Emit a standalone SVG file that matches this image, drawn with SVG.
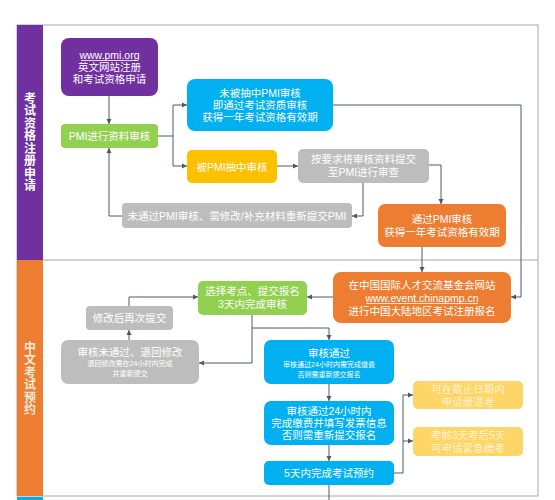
<svg xmlns="http://www.w3.org/2000/svg" width="555" height="500" viewBox="0 0 555 500">
<defs>
<marker id="arr" markerUnits="userSpaceOnUse" markerWidth="6" markerHeight="6" refX="5" refY="3" orient="auto">
<path d="M0,0.5 L5,3 L0,5.5 Z" fill="#4a5a6e"/>
</marker>
</defs>
<style>
text{font-family:"Liberation Sans","Noto Sans CJK SC",sans-serif;fill:#fff;text-anchor:middle;dominant-baseline:central}
.t{font-size:10.5px}
.s{font-size:7px}
.lane{font-family:"Noto Sans CJK SC",sans-serif;font-size:12px;font-weight:bold;writing-mode:tb;text-orientation:upright;letter-spacing:0.5px;text-anchor:start}
.c{fill:none;stroke:#4a5a6e;stroke-width:1}
.ca{fill:none;stroke:#4a5a6e;stroke-width:1;marker-end:url(#arr)}
.frame{fill:none;stroke:#a6a6a6;stroke-width:1}
.pale{fill:#fff3cf}
.ul{stroke:#fff;stroke-width:0.8}
</style>
<rect x="0" y="0" width="555" height="500" fill="#fff"/>
<g id="frame">
<rect class="frame" x="17" y="25" width="521" height="471"/>
<line class="frame" x1="43" y1="260" x2="538" y2="260"/>
</g>
<g id="lane1">
<rect x="17" y="25" width="26" height="235" fill="#7030A0"/>
<text class="lane" x="30" y="92">考试资格注册申请</text>
</g>
<g id="lane2">
<rect x="17" y="260" width="26" height="236" fill="#ED7D31"/>
<text class="lane" x="30" y="341" style="fill:#fde9d9">中文考试预约</text>
</g>
<rect x="17" y="497" width="26" height="3" fill="#00B0F0"/>
<g id="connectors">
<path class="ca" d="M109,96 V124"/>
<path class="ca" d="M158,136 H173 V105 H187"/>
<path class="ca" d="M173,136 V166 H187"/>
<path class="ca" d="M277,166 H298"/>
<path class="ca" d="M429,165 H441 V204"/>
<path class="ca" d="M363,183 V216 H352"/>
<path class="ca" d="M122,216 H109 V148"/>
<path class="ca" d="M333,105 H521 V297 H511"/>
<path class="ca" d="M422,247 V272"/>
<path class="ca" d="M333,297 H307"/>
<path class="ca" d="M252,315 V363 H199"/>
<path class="ca" d="M252,328 H329 V340"/>
<path class="ca" d="M129,340 V330"/>
<path class="ca" d="M129,306 V297 H198"/>
<path class="ca" d="M329,384 V401"/>
<path class="ca" d="M329,445 V461"/>
<path class="c" d="M329,485 V500"/>
<path class="ca" d="M393,473 H403 V395 H413"/>
<path class="ca" d="M403,441 H413"/>
</g>
<g id="pmi-site">
<rect x="61" y="38" width="97" height="58" rx="8" fill="#7030A0"/>
<text class="t"><tspan x="109.5" y="55">www.pmi.org</tspan><tspan x="109.5" y="67">英文网站注册</tspan><tspan x="109.5" y="79">和考试资格申请</tspan></text>
<line class="ul" x1="81" y1="60.5" x2="138" y2="60.5"/>
</g>
<g id="pmi-review">
<rect x="61" y="124" width="97" height="24" rx="4" fill="#92D050"/>
<text class="t" x="109.5" y="136">PMI进行资料审核</text>
</g>
<g id="not-audited">
<rect x="187" y="79" width="146" height="52" rx="8" fill="#00B0F0"/>
<text class="t"><tspan x="260" y="93">未被抽中PMI审核</tspan><tspan x="260" y="105">即通过考试资质审核</tspan><tspan x="260" y="117">获得一年考试资格有效期</tspan></text>
</g>
<g id="audited">
<rect x="187" y="150" width="90" height="33" rx="5" fill="#FFC000"/>
<text class="t" x="232" y="166.5">被PMI抽中审核</text>
</g>
<g id="submit-docs">
<rect x="298" y="149" width="131" height="34" rx="5" fill="#BDBDBD"/>
<text class="t"><tspan x="363.5" y="159">按要求将审核资料提交</tspan><tspan x="363.5" y="172">至PMI进行审查</tspan></text>
</g>
<g id="fail-resubmit">
<rect x="122" y="203" width="230" height="25" rx="4" fill="#BDBDBD"/>
<text class="t" x="237" y="215.5">未通过PMI审核、需修改/补充材料重新提交PMI</text>
</g>
<g id="pass-pmi">
<rect x="378" y="204" width="128" height="43" rx="7" fill="#ED7D31"/>
<text class="t"><tspan x="442" y="219">通过PMI审核</tspan><tspan x="442" y="232">获得一年考试资格有效期</tspan></text>
</g>
<g id="cn-register">
<rect x="333" y="272" width="178" height="51" rx="8" fill="#ED7D31"/>
<text class="t"><tspan x="422" y="285">在中国国际人才交流基金会网站</tspan><tspan x="422" y="298">www.event.chinapmp.cn</tspan><tspan x="422" y="311">进行中国大陆地区考试注册报名</tspan></text>
<line class="ul" x1="366" y1="303.5" x2="478" y2="303.5"/>
</g>
<g id="select-site">
<rect x="198" y="281" width="109" height="34" rx="5" fill="#92D050"/>
<text class="t"><tspan x="252.5" y="291">选择考点、提交报名</tspan><tspan x="252.5" y="304">3天内完成审核</tspan></text>
</g>
<g id="resubmit">
<rect x="86" y="306" width="87" height="24" rx="4" fill="#BDBDBD"/>
<text class="t" x="129.5" y="318">修改后再次提交</text>
</g>
<g id="review-fail">
<rect x="61" y="340" width="138" height="44" rx="7" fill="#BDBDBD"/>
<text class="t"><tspan x="130" y="352">审核未通过、退回修改</tspan><tspan class="s" x="130" y="363">退回修改需在24小时内完成</tspan><tspan class="s" x="130" y="372.5">并重新提交</tspan></text>
</g>
<g id="review-pass">
<rect x="264" y="340" width="130" height="44" rx="7" fill="#00B0F0"/>
<text class="t"><tspan x="329" y="353">审核通过</tspan><tspan class="s" x="329" y="364">审核通过24小时内需完成缴费</tspan><tspan class="s" x="329" y="373.5">否则需重新提交报名</tspan></text>
</g>
<g id="pay">
<rect x="264" y="401" width="130" height="44" rx="7" fill="#00B0F0"/>
<text class="t"><tspan x="329" y="411">审核通过24小时内</tspan><tspan x="329" y="423">完成缴费并填写发票信息</tspan><tspan x="329" y="435">否则需重新提交报名</tspan></text>
</g>
<g id="book">
<rect x="264" y="461" width="130" height="24" rx="5" fill="#00B0F0"/>
<text class="t" x="329" y="473">5天内完成考试预约</text>
</g>
<g id="defer">
<rect x="413" y="381" width="110" height="28" rx="5" fill="#FDD667"/>
<text class="t pale"><tspan x="468" y="388.5">可在截止日期内</tspan><tspan x="468" y="402">申请缓退考</tspan></text>
</g>
<g id="urgent">
<rect x="413" y="427" width="110" height="29" rx="5" fill="#FDD667"/>
<text class="t pale"><tspan x="468" y="434.5">考前3天考后5天</tspan><tspan x="468" y="448">可申请紧急缓考</tspan></text>
</g>
</svg>
